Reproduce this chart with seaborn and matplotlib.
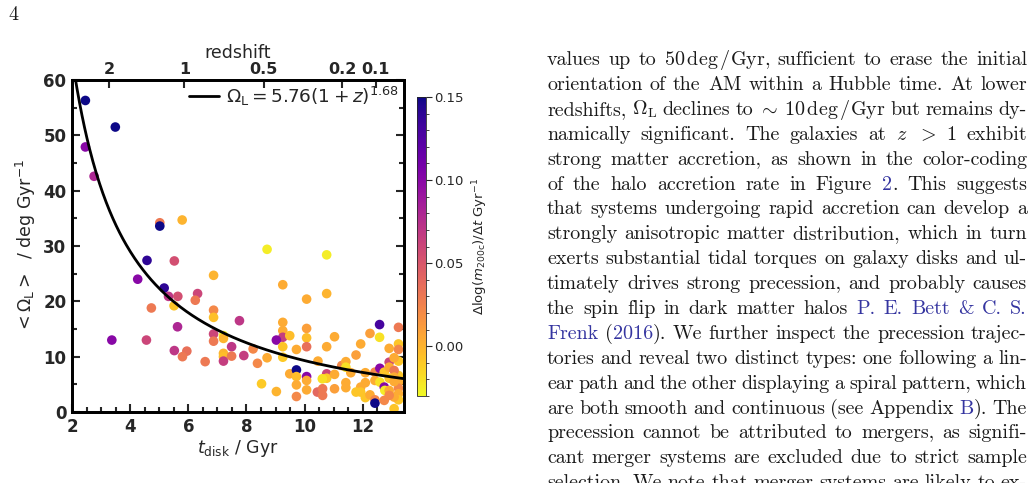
import numpy as np
import pandas as pd
import matplotlib
matplotlib.use("Agg")
import matplotlib.pyplot as plt
import seaborn as sns
from matplotlib.ticker import MultipleLocator
from matplotlib.colors import Normalize
from matplotlib.cm import ScalarMappable

# disk age (Gyr), mean precession rate (deg/Gyr), halo accretion rate (dex/Gyr)
t_disk = [2.46, 3.49, 2.46, 2.76, 5.02, 5.02, 5.79, 4.58, 5.52, 4.26,
          5.17, 5.32, 5.64, 6.32, 6.24, 4.73, 5.51, 6.87, 6.87, 6.87,
          5.63, 6.87, 7.21, 7.21, 6.87, 3.37, 4.56, 7.49, 5.52, 5.95,
          5.80, 7.21, 7.21, 7.49, 6.58, 7.21, 8.71, 10.76, 9.25, 10.07,
          10.76, 7.76, 9.25, 9.25, 9.25, 9.03, 9.49, 10.07, 10.07, 10.07,
          9.72, 9.25, 9.25, 8.71, 8.23, 8.38, 7.91, 11.03, 10.76, 10.46,
          9.49, 9.72, 9.72, 9.72, 9.72, 10.07, 10.07, 10.07, 9.03, 8.52,
          10.44, 10.62, 10.62, 10.76, 10.76, 10.61, 11.03, 11.03, 11.28, 11.42,
          11.42, 11.59, 11.42, 11.42, 11.77, 11.93, 12.25, 12.58, 12.58, 12.91,
          13.23, 13.23, 13.23, 13.23, 12.91, 13.08, 12.09, 12.42, 12.59, 12.74,
          12.42, 12.59, 12.09, 11.93, 11.77, 11.93, 12.09, 12.25, 12.42, 12.42,
          12.74, 12.76, 12.74, 12.91, 13.08, 13.23, 13.23, 13.23, 13.23, 13.23,
          13.08, 12.91, 13.08, 13.08, 12.91, 13.08, 12.91]
omega_L = [56.3, 51.5, 47.9, 42.6, 34.2, 33.6, 34.7, 27.4, 27.3, 24.0,
           22.4, 20.9, 20.9, 21.4, 20.2, 18.8, 19.2, 24.7, 18.4, 17.1,
           15.4, 14.1, 13.8, 13.3, 12.8, 13.0, 13.0, 11.8, 11.1, 11.0,
           10.0, 10.6, 10.0, 10.1, 9.1, 9.2, 29.4, 28.4, 23.0, 20.4,
           21.4, 16.5, 16.2, 14.7, 13.5, 13.0, 13.8, 15.1, 13.4, 11.8,
           11.3, 11.8, 9.9, 9.8, 11.4, 8.8, 10.2, 13.6, 11.8, 9.2,
           6.9, 7.6, 6.4, 4.9, 2.8, 6.4, 5.7, 4.0, 3.7, 5.1,
           3.6, 4.2, 3.0, 6.9, 6.1, 6.0, 6.8, 4.2, 8.4, 9.1,
           8.1, 7.1, 5.3, 4.4, 10.3, 12.3, 14.2, 15.8, 13.5, 11.5,
           15.3, 12.3, 11.3, 9.2, 9.0, 9.8, 7.1, 7.2, 7.9, 7.2,
           5.7, 5.4, 5.3, 4.5, 3.6, 3.6, 2.6, 3.1, 2.2, 1.6,
           4.5, 3.9, 2.1, 3.9, 0.6, 6.6, 5.4, 4.3, 3.3, 2.2,
           2.7, 8.1, 7.5, 6.3, 6.1, 5.5, 3.0]
accretion = [0.15, 0.15, 0.10, 0.08, 0.03, 0.15, 0.0, 0.14, 0.055, 0.10,
             0.14, 0.07, 0.055, 0.06, 0.03, 0.03, -0.008, 0.0, 0.022, -0.006,
             0.08, 0.06, -0.025, 0.0, 0.03, 0.10, 0.06, 0.07, 0.07, 0.035,
             0.03, 0.0, -0.004, 0.03, 0.03, 0.065, -0.025, -0.025, 0.004, 0.004,
             0.0, 0.07, 0.004, 0.004, 0.065, 0.10, -0.004, 0.01, -0.004, 0.035,
             0.004, -0.008, -0.01, 0.004, 0.022, 0.022, 0.065, 0.004, 0.004, 0.004,
             0.004, 0.15, -0.004, 0.004, 0.022, 0.10, 0.004, 0.004, 0.0, -0.01,
             0.04, 0.03, 0.03, 0.06, -0.01, -0.02, 0.004, 0.01, 0.022, 0.004,
             -0.02, 0.004, 0.004, 0.004, 0.01, 0.004, 0.01, 0.13, -0.02, 0.004,
             0.03, -0.008, 0.022, -0.008, 0.06, 0.004, 0.004, 0.022, 0.10, -0.008,
             0.004, -0.02, 0.004, 0.004, -0.008, -0.008, -0.008, 0.004, 0.022, 0.15,
             0.10, -0.025, 0.022, 0.004, -0.008, -0.008, 0.004, 0.022, 0.004, -0.008,
             0.004, 0.004, 0.03, 0.004, -0.008, 0.004, 0.022]

z_ticks = [2, 1, 0.5, 0.2, 0.1]
z_tick_labels = ["2", "1", "0.5", "0.2", "0.1"]
fit_amp, fit_exp = 5.76, 1.68
acc_min, acc_max = -0.03, 0.15

# flat LCDM, for the redshift axis and the fit curve
H0, Om = 67.7, 0.31
OL = 1 - Om
t_hubble = 977.8 / H0


def cosmic_age(z):
    z = np.asarray(z, dtype=float)
    return 2 * t_hubble / (3 * np.sqrt(OL)) * np.arcsinh(np.sqrt(OL / Om) * (1 + z) ** -1.5)


df = pd.DataFrame({"t": t_disk, "omega": omega_L, "acc": accretion})

z_grid = np.linspace(0, 6, 3000)
t_curve = np.linspace(2.0, 13.45, 400)
z_curve = np.interp(t_curve, cosmic_age(z_grid)[::-1], z_grid[::-1])
fit = pd.DataFrame({"t": t_curve, "omega": fit_amp * (1 + z_curve) ** fit_exp})

sns.set_style("ticks")
plt.rcParams["font.family"] = ["DejaVu Sans"]

W, H = 1035, 483
fig = plt.figure(figsize=(W / 100, H / 100), dpi=100)
ax = fig.add_axes([72 / W, 1 - 412 / H, 332 / W, 332 / H])

sns.scatterplot(data=df, x="t", y="omega", hue="acc", palette="plasma_r",
                hue_norm=(acc_min, acc_max), s=48, linewidth=0, legend=False,
                ax=ax, zorder=2)
sns.lineplot(data=fit, x="t", y="omega", color="black", lw=2, ax=ax, zorder=3,
             label=r"$\Omega_{\rm L} = 5.76(1+z)^{1.68}$")

ax.set_xlim(2, 13.42)
ax.set_ylim(0, 60)
ax.set_xticks([2, 4, 6, 8, 10, 12], ["2", "4", "6", "8", "10", "12"],
              fontweight="bold", fontsize=12)
ax.set_yticks([0, 10, 20, 30, 40, 50, 60], ["0", "10", "20", "30", "40", "50", "60"],
              fontweight="bold", fontsize=12)
ax.xaxis.set_minor_locator(MultipleLocator(0.5))
ax.yaxis.set_minor_locator(MultipleLocator(5))
ax.tick_params(which="both", direction="in", right=True, width=1.5)
ax.tick_params(which="major", length=6, pad=4)
ax.tick_params(which="minor", length=3.5)
ax.set_xlabel(r"$t_{\rm disk}$ / Gyr", fontsize=12.5, labelpad=2)
ax.set_ylabel(r"$<\Omega_{\rm L}>$  / deg Gyr$^{-1}$", fontsize=12.5, labelpad=4)
ax.legend(loc="upper right", frameon=False, fontsize=13.3, handlelength=1.6,
          handletextpad=0.4, borderaxespad=0.1, borderpad=0.15)

ax_top = ax.twiny()
ax_top.set_xlim(ax.get_xlim())
ax_top.set_xticks(cosmic_age(z_ticks), z_tick_labels, fontweight="bold", fontsize=11.5)
ax_top.tick_params(direction="in", length=6, width=1.5, pad=2)
ax_top.set_xlabel("redshift", fontsize=12.5, labelpad=3)
for a in (ax, ax_top):
    for sp in a.spines.values():
        sp.set_linewidth(2)
        sp.set_color("black")

cax = fig.add_axes([417 / W, 1 - 396 / H, 9 / W, 299 / H])
sm = ScalarMappable(norm=Normalize(acc_min, acc_max), cmap="plasma_r")
cb = fig.colorbar(sm, cax=cax)
cb.set_ticks([0.0, 0.05, 0.10, 0.15])
cb.set_ticklabels(["0.00", "0.05", "0.10", "0.15"])
cb.ax.yaxis.set_minor_locator(MultipleLocator(0.01))
cb.ax.tick_params(which="major", length=4, width=0.8, labelsize=9.5, pad=1.5)
cb.ax.tick_params(which="minor", length=2, width=0.6)
cb.outline.set_linewidth(0.6)
cb.set_label(r"$\Delta \log(m_{\rm 200c})/\Delta t$ Gyr$^{-1}$", fontsize=9.5, labelpad=5)

# page text next to the figure
ink = "#1a1a1a"
link_blue = "#3535a0"
fs = 14.45
paragraph = [
    r"values up to 50$\,$deg$\,$/Gyr, sufficient to erase the initial",
    r"orientation of the AM within a Hubble time. At lower",
    r"redshifts, $\Omega_\mathrm{L}$ declines to $\sim$ 10$\,$deg$\,$/Gyr but remains dy-",
    r"namically significant. The galaxies at $z$ $>$ 1 exhibit",
    r"strong matter accretion, as shown in the color-coding",
    r"of the halo accretion rate in Figure @2@. This suggests",
    r"that systems undergoing rapid accretion can develop a",
    r"strongly anisotropic matter distribution, which in turn",
    r"exerts substantial tidal torques on galaxy disks and ul-",
    r"timately drives strong precession, and probably causes",
    r"the spin flip in dark matter halos @P.@ @E.@ @Bett@ @&@ @C.@ @S.@",
    r"@Frenk@ (@2016@). We further inspect the precession trajec-",
    r"tories and reveal two distinct types: one following a lin-",
    r"ear path and the other displaying a spiral pattern, which",
    r"are both smooth and continuous (see Appendix @B@). The",
    r"precession cannot be attributed to mergers, as signifi-",
    r"cant merger systems are excluded due to strict sample",
    r"selection. We note that merger systems are likely to ex-",
]

renderer = fig.canvas.get_renderer()


def put_line(line, y_px, x0=547, x1=1027):
    words = []
    for word in line.split(" "):
        segs = []
        for k, part in enumerate(word.split("@")):
            if part == "":
                continue
            col = link_blue if k % 2 else ink
            txt = fig.text(0, 1 - y_px / H, part, color=col, fontsize=fs,
                           family="cmr10", math_fontfamily="cm",
                           va="baseline", ha="left")
            segs.append((txt, txt.get_window_extent(renderer).width))
        words.append(segs)
    widths = [sum(w for _, w in segs) for segs in words]
    gap = (x1 - x0 - sum(widths)) / (len(words) - 1)
    x = x0
    for segs in words:
        for txt, w in segs:
            txt.set_x(x / W)
            x += w
        x += gap


for i, line in enumerate(paragraph):
    put_line(line, 65 + 24.9 * i)

fig.text(8 / W, 1 - 20 / H, "4", fontsize=fs, family="cmr10", color=ink,
         va="baseline", ha="left")

fig.savefig("out.png", dpi=100)
